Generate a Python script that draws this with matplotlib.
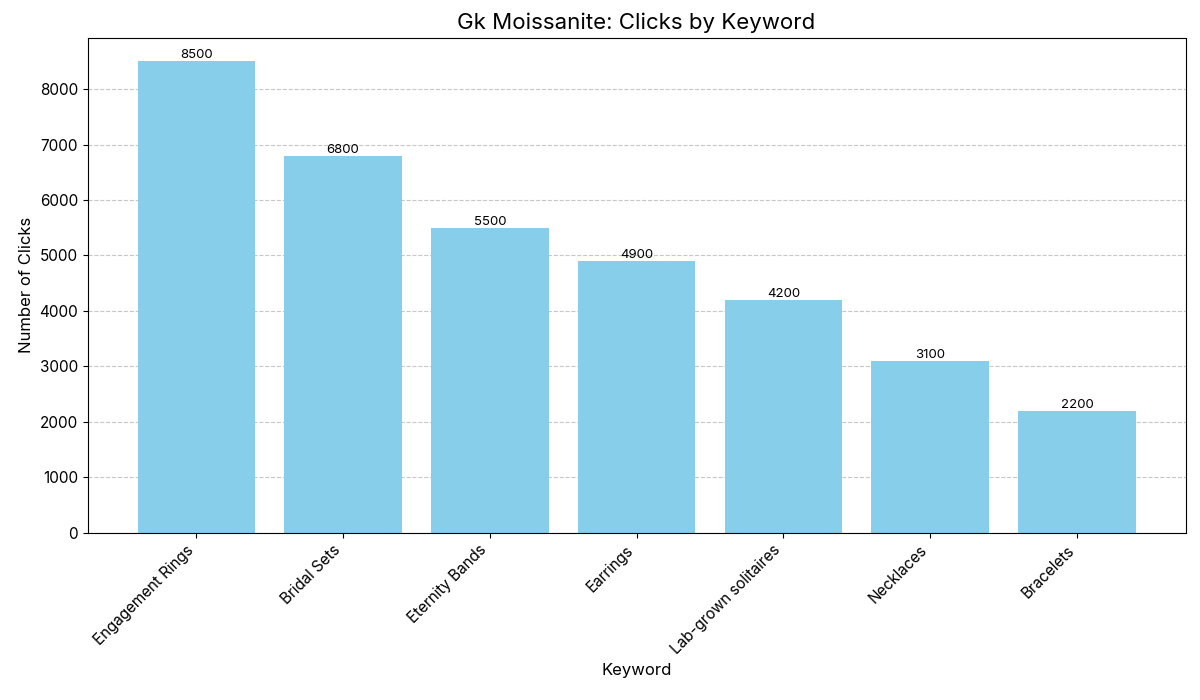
import matplotlib
matplotlib.use("Agg")
import matplotlib.pyplot as plt

plt.rcParams['font.family'] = ['Inter', 'DejaVu Sans']

keywords = ["Engagement Rings", "Bridal Sets", "Eternity Bands", "Earrings",
            "Lab-grown solitaires", "Necklaces", "Bracelets"]
clicks = [8500, 6800, 5500, 4900, 4200, 3100, 2200]

fig, ax = plt.subplots(figsize=(12, 7), dpi=100)
bars = ax.bar(keywords, clicks, color='skyblue', zorder=2)
ax.set_title("Gk Moissanite: Clicks by Keyword", fontsize=16)
ax.set_xlabel("Keyword", fontsize=12)
ax.set_ylabel("Number of Clicks", fontsize=12)
ax.grid(axis='y', linestyle='--', alpha=0.7, zorder=0)
ax.tick_params(axis='both', labelsize=11)
plt.xticks(rotation=45, ha='right')
for b, v in zip(bars, clicks):
    ax.text(b.get_x() + b.get_width() / 2, v, str(v), ha='center', va='bottom', fontsize=9.5)
fig.subplots_adjust(left=0.073, right=0.988, top=0.946, bottom=0.239)
fig.savefig("out.png")
